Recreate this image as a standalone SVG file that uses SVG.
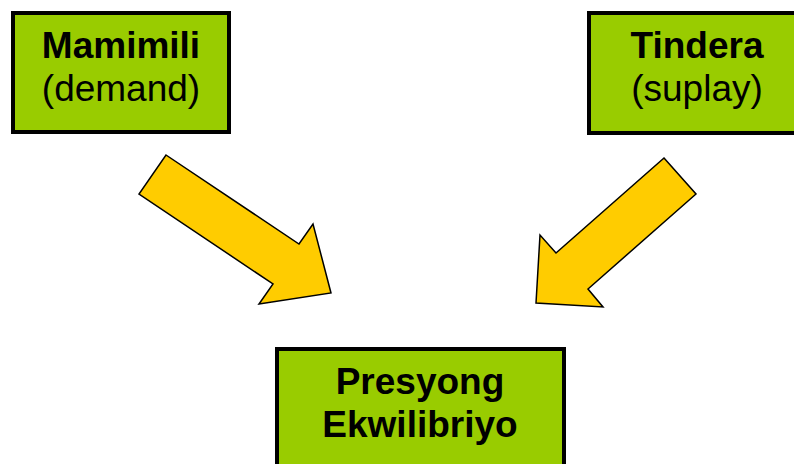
<svg xmlns="http://www.w3.org/2000/svg" width="794" height="464" viewBox="0 0 794 464">
<style>
.box{fill:#99CC00;stroke:#000;stroke-width:4}
.arrow{fill:#FFCC00;stroke:#000;stroke-width:1.5;stroke-linejoin:miter}
text{font-family:"Liberation Sans",Arial,sans-serif;font-size:37px;fill:#000;text-anchor:middle}
.b{font-weight:bold}
</style>
<rect width="794" height="464" fill="#fff"/>
<g id="connectors">
<polygon class="arrow" points="166,155 299,244 313,224 331,293 259,304 273,284 139,194"/>
<polygon class="arrow" points="664,158 696,194 588,289 603,307 536,303 540,235 556,253"/>
</g>
<g id="demand">
<rect class="box" x="13" y="13" width="216" height="119"/>
<text x="121" y="58" class="b">Mamimili</text>
<text x="121" y="101">(demand)</text>
</g>
<g id="supply">
<rect class="box" x="589" y="13" width="216" height="120"/>
<text x="697" y="58" class="b">Tindera</text>
<text x="697" y="101">(suplay)</text>
</g>
<g id="equilibrium">
<rect class="box" x="277" y="349" width="287" height="130"/>
<text x="420" y="394" class="b">Presyong</text>
<text x="420" y="437" class="b">Ekwilibriyo</text>
</g>
</svg>
